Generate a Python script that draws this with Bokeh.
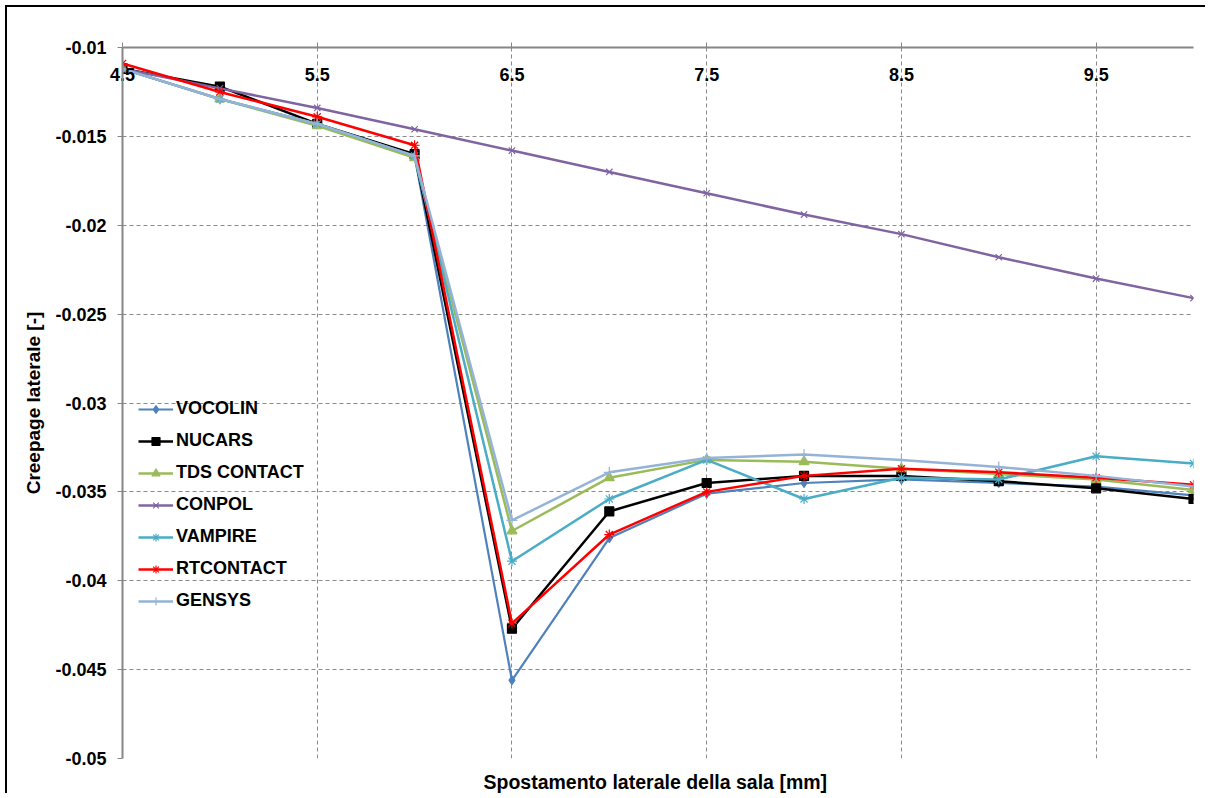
from bokeh.plotting import figure
from bokeh.models import (Range1d, FixedTicker, LinearAxis, Legend, LegendItem,
                          ColumnDataSource)
from bokeh.embed import file_html
from bokeh.resources import INLINE

# ---------------- data ----------------
x_values = [4.5, 5.0, 5.5, 6.0, 6.5, 7.0, 7.5, 8.0, 8.5, 9.0, 9.5, 10.0]

vocolin   = [-0.0112, -0.0129, -0.0143, -0.0161, -0.0456, -0.0376, -0.0351, -0.0345, -0.0343, -0.0345, -0.0347, -0.0352]
nucars    = [-0.0112, -0.0122, -0.0143, -0.0160, -0.0427, -0.0361, -0.0345, -0.0341, -0.0341, -0.0344, -0.0348, -0.0354]
tdscontact = [-0.0112, -0.0129, -0.0144, -0.0162, -0.0372, -0.0342, -0.0332, -0.0333, -0.0337, -0.0340, -0.0343, -0.0349]
conpol    = [-0.0112, -0.0123, -0.0134, -0.0146, -0.0158, -0.0170, -0.0182, -0.0194, -0.0205, -0.0218, -0.0230, -0.0241]
vampire   = [-0.0112, -0.0129, -0.0143, -0.0161, -0.0389, -0.0354, -0.0332, -0.0354, -0.0342, -0.0343, -0.0330, -0.0334]
rtcontact = [-0.0109, -0.0125, -0.0139, -0.0155, -0.0424, -0.0374, -0.0350, -0.0341, -0.0337, -0.0339, -0.0342, -0.0346]
gensys    = [-0.0112, -0.0129, -0.0143, -0.0161, -0.0366, -0.0339, -0.0331, -0.0329, -0.0332, -0.0336, -0.0341, -0.0347]

series_names = ["VOCOLIN", "NUCARS", "TDS CONTACT", "CONPOL", "VAMPIRE", "RTCONTACT", "GENSYS"]

x_ticks = [4.5, 5.5, 6.5, 7.5, 8.5, 9.5]
x_tick_labels = ["4.5", "5.5", "6.5", "7.5", "8.5", "9.5"]
y_ticks = [-0.05, -0.045, -0.04, -0.035, -0.03, -0.025, -0.02, -0.015, -0.01]
y_tick_labels = ["-0.05", "-0.045", "-0.04", "-0.035", "-0.03", "-0.025", "-0.02", "-0.015", "-0.01"]

x_title = "Spostamento laterale della sala  [mm]"
y_title = "Creepage laterale [-]"

# ---------------- styling ----------------
FONT = "Liberation Sans"
AXIS_GRAY = "#868686"
GRID_GRAY = "#8a8a8a"

p = figure(width=1200, height=788, output_backend="svg", toolbar_location=None,
           x_range=Range1d(4.5, 10.0), y_range=Range1d(-0.05, -0.01),
           x_axis_location="above",
           min_border_left=115, min_border_top=40, min_border_right=14, min_border_bottom=37)
p.outline_line_color = None
p.background_fill_color = "white"
p.border_fill_color = "white"
p.styles = {"margin": "5px 0px 0px 5px",
            "border-left": "2px solid black", "border-top": "2px solid black"}

# top x axis: labels pushed below the axis line (inside the frame) with a negative standoff
xa = p.xaxis[0]
xa.ticker = FixedTicker(ticks=x_ticks)
xa.major_label_overrides = {t: l for t, l in zip(x_ticks, x_tick_labels)}
xa.axis_line_color = AXIS_GRAY
xa.axis_line_width = 2
xa.major_tick_line_color = AXIS_GRAY
xa.major_tick_line_width = 1
xa.major_tick_out = 5
xa.major_tick_in = 0
xa.minor_tick_line_color = None
xa.major_label_standoff = -38
xa.major_label_text_font = FONT
xa.major_label_text_font_size = "18px"
xa.major_label_text_font_style = "bold"
xa.major_label_text_color = "black"

# left y axis
ya = p.yaxis[0]
ya.ticker = FixedTicker(ticks=y_ticks)
ya.major_label_overrides = {t: l for t, l in zip(y_ticks, y_tick_labels)}
ya.axis_line_color = AXIS_GRAY
ya.axis_line_width = 2
ya.major_tick_line_color = AXIS_GRAY
ya.major_tick_line_width = 1
ya.major_tick_out = 5
ya.major_tick_in = 0
ya.minor_tick_line_color = None
ya.major_label_standoff = 11
ya.major_label_text_font = FONT
ya.major_label_text_font_size = "18px"
ya.major_label_text_font_style = "bold"
ya.major_label_text_color = "black"
ya.axis_label = y_title
ya.axis_label_standoff = 8
ya.axis_label_text_font = FONT
ya.axis_label_text_font_size = "19px"
ya.axis_label_text_font_style = "bold"
ya.axis_label_text_color = "black"

# bottom axis only carries the x title
xb = LinearAxis(ticker=FixedTicker(ticks=[]), axis_line_color=None,
                major_tick_line_color=None, minor_tick_line_color=None,
                major_label_text_font_size="0px", major_label_standoff=0,
                major_tick_out=0, major_tick_in=0,
                axis_label=x_title, axis_label_standoff=12,
                axis_label_text_font=FONT, axis_label_text_font_size="19.5px",
                axis_label_text_font_style="bold", axis_label_text_color="black")
p.add_layout(xb, "below")

# grids
p.xgrid.ticker = FixedTicker(ticks=x_ticks)
p.ygrid.ticker = FixedTicker(ticks=y_ticks)
for g in (p.xgrid, p.ygrid):
    g.grid_line_color = GRID_GRAY
    g.grid_line_width = 1
    g.grid_line_dash = "4 3"

# series
series_values = [vocolin, nucars, tdscontact, conpol, vampire, rtcontact, gensys]
colors = ["#4F81BD", "#000000", "#9BBB59", "#8064A2", "#4BACC6", "#FF0000", "#95B3D7"]
markers = ["diamond", "square", "triangle", "x", "asterisk", "asterisk", "cross"]
msizes = [9, 9, 10, 9, 10, 10, 11]
lwidths = [2.2, 2.5, 2.5, 2.5, 2.5, 2.5, 2.5]

items = []
for name, vals, col, mk, ms, lw in zip(series_names, series_values, colors, markers, msizes, lwidths):
    src = ColumnDataSource(dict(x=x_values, y=vals))
    r1 = p.line("x", "y", source=src, line_color=col, line_width=lw)
    r2 = p.scatter("x", "y", source=src, marker=mk, size=ms,
                   fill_color=col, line_color=col, line_width=1.2)
    items.append(LegendItem(label=name, renderers=[r1, r2]))

legend = Legend(items=items, location=(16, 147), padding=0, margin=0,
                spacing=11, glyph_width=35, glyph_height=20, label_height=20,
                label_standoff=3, label_text_font=FONT, label_text_font_size="18px",
                label_text_font_style="bold", label_text_color="black",
                label_text_line_height=1.0,
                background_fill_alpha=0, border_line_color=None)
p.add_layout(legend)

open("out.html", "w").write(file_html(p, INLINE))
